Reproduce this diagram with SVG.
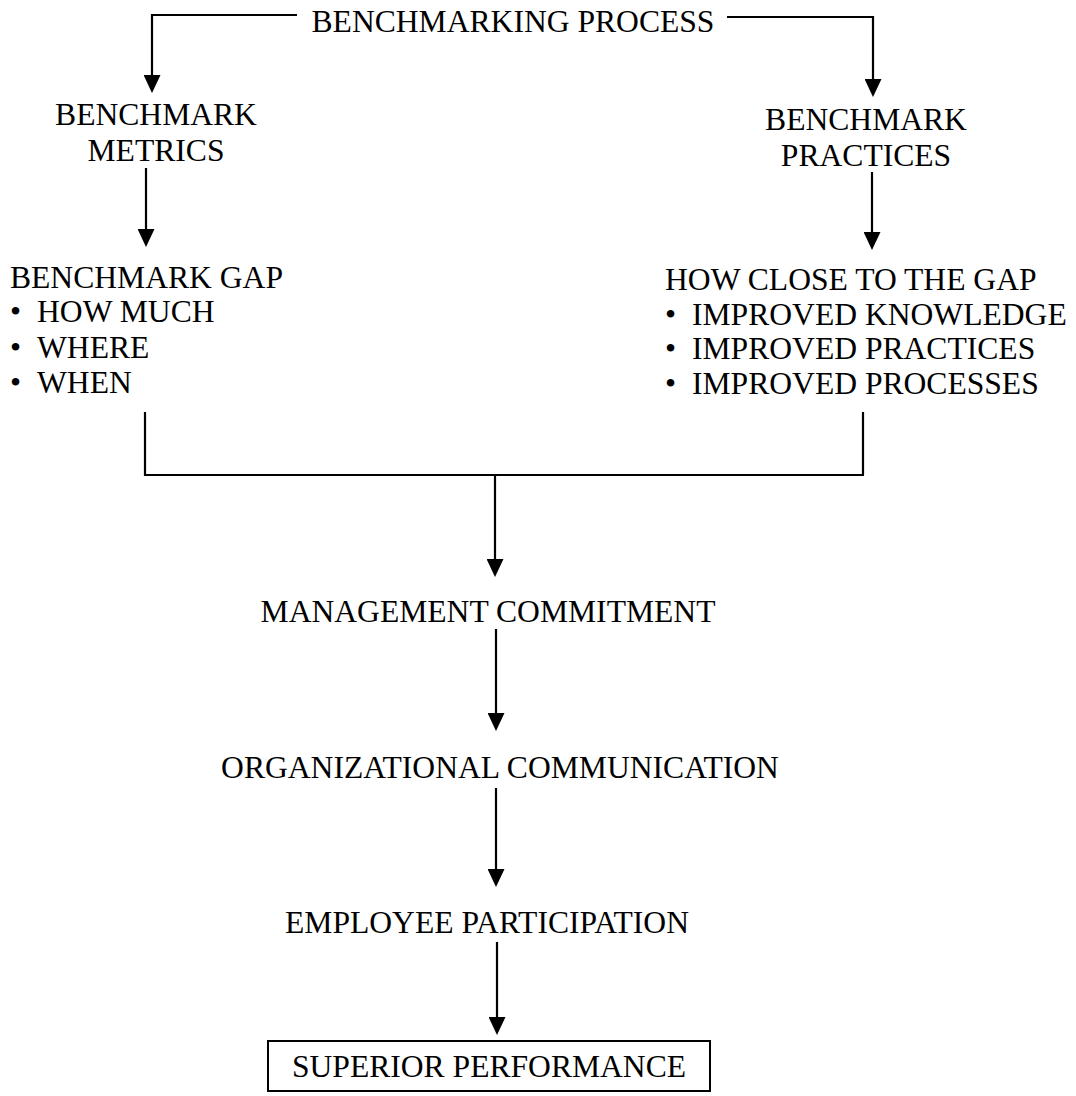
<svg xmlns="http://www.w3.org/2000/svg" width="1076" height="1096" viewBox="0 0 1076 1096">
<defs>
<style>
text{font-family:"Liberation Serif","Times New Roman",serif;font-size:31.6px;fill:#000}
.c{text-anchor:middle}
.ln{fill:none;stroke:#000;stroke-width:2.2}
.ar{marker-end:url(#ah)}
</style>
<marker id="ah" markerUnits="userSpaceOnUse" markerWidth="18" markerHeight="17" refX="10" refY="8.5" orient="auto" viewBox="0 0 18 17">
<path d="M0,0 L18,8.5 L0,17 z" fill="#000"/>
</marker>
</defs>
<rect width="1076" height="1096" fill="#fff"/>
<g id="connectors">
<path class="ln ar" d="M297,15 H152 V85"/>
<path class="ln ar" d="M727,17 H873 V89"/>
<path class="ln ar" d="M146,168 V239"/>
<path class="ln ar" d="M872,172 V242"/>
<path class="ln" d="M145,412 V475 H864 M863,412 V475"/>
<path class="ln ar" d="M495,475 V569"/>
<path class="ln ar" d="M496,629 V723"/>
<path class="ln ar" d="M496,788 V879"/>
<path class="ln ar" d="M497,942 V1027"/>
</g>
<g id="benchmarking-process"><text class="c" x="513" y="32">BENCHMARKING PROCESS</text></g>
<g id="benchmark-metrics">
<text class="c" x="156" y="125">BENCHMARK</text>
<text class="c" x="156" y="161">METRICS</text>
</g>
<g id="benchmark-practices">
<text class="c" x="866" y="130">BENCHMARK</text>
<text class="c" x="866" y="166">PRACTICES</text>
</g>
<g id="benchmark-gap">
<text x="10" y="288">BENCHMARK GAP</text>
<text x="10" y="322">•</text><text x="37" y="322">HOW MUCH</text>
<text x="10" y="358">•</text><text x="37" y="358">WHERE</text>
<text x="10" y="393">•</text><text x="37" y="393">WHEN</text>
</g>
<g id="how-close">
<text x="665" y="290">HOW CLOSE TO THE GAP</text>
<text x="665" y="325">•</text><text x="692" y="325">IMPROVED KNOWLEDGE</text>
<text x="665" y="359">•</text><text x="692" y="359">IMPROVED PRACTICES</text>
<text x="665" y="394">•</text><text x="692" y="394">IMPROVED PROCESSES</text>
</g>
<g id="management-commitment"><text class="c" x="488" y="622">MANAGEMENT COMMITMENT</text></g>
<g id="organizational-communication"><text class="c" x="500" y="778">ORGANIZATIONAL COMMUNICATION</text></g>
<g id="employee-participation"><text class="c" x="487" y="933">EMPLOYEE PARTICIPATION</text></g>
<g id="superior-performance">
<rect x="268" y="1041" width="442" height="50" fill="none" stroke="#000" stroke-width="2"/>
<text class="c" x="489" y="1077">SUPERIOR PERFORMANCE</text>
</g>
</svg>
